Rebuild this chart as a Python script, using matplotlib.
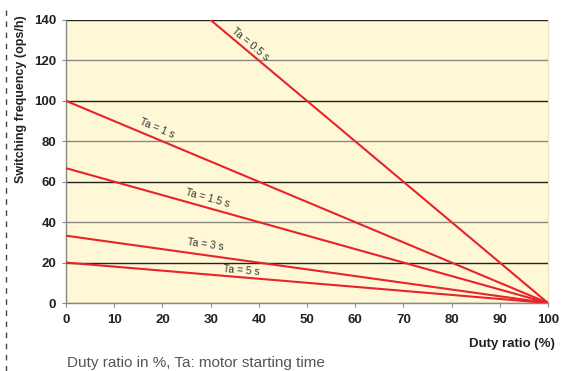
import numpy as np
import matplotlib
matplotlib.use("Agg")
import matplotlib.pyplot as plt
from matplotlib.lines import Line2D

plt.rcParams['font.family'] = ['Liberation Sans', 'DejaVu Sans']

# Data
duty = [0, 100]
series_labels = ["Ta = 0.5 s", "Ta = 1 s", "Ta = 1.5 s", "Ta = 3 s", "Ta = 5 s"]
start_freq = [200, 100, 66.7, 33.3, 20]
label_x = [38.2, 18.9, 29.3, 29.0, 36.5]
label_y = [128.0, 86.6, 52.0, 28.7, 16.3]
x_ticks = [0, 10, 20, 30, 40, 50, 60, 70, 80, 90, 100]
y_ticks = [0, 20, 40, 60, 80, 100, 120, 140]

W, H = 567, 371
fig = plt.figure(figsize=(W/100, H/100), dpi=100)
ax = fig.add_axes([66/W, 1-303/H, (548-66)/W, (303-20)/H])
ax.set_facecolor('#FFF8D6')
ax.set_xlim(0, 100)
ax.set_ylim(0, 140)

for f0 in start_freq:
    ax.plot(duty, [f0, 0], color='#E8232B', lw=1.5, zorder=3, clip_on=True, solid_capstyle='butt')

for lab, lx, ly, f0 in zip(series_labels, label_x, label_y, start_freq):
    ang = np.degrees(np.arctan2(-f0, 100))
    ax.text(lx, ly, lab, rotation=ang, transform_rotates_text=True,
            rotation_mode='anchor', ha='center', va='center',
            fontsize=7.5, color='#333333', zorder=4)

ax.set_xticks(x_ticks)
ax.set_yticks(y_ticks)
ax.tick_params(axis='both', direction='out', length=3, width=0.8, color='#888888',
               labelsize=9.5, labelcolor='#222222')
ax.tick_params(axis='x', pad=5)
ax.tick_params(axis='y', pad=4)
for t in ax.get_xticklabels() + ax.get_yticklabels():
    t.set_fontweight('bold')

ax.yaxis.grid(True, zorder=1)
for val, gl in zip(y_ticks, ax.yaxis.get_gridlines()):
    if val in (20, 60, 100, 140):
        gl.set_color('#222222')
    else:
        gl.set_color('#8a8a80')
    gl.set_linewidth(1.0)
ax.set_axisbelow(True)

ax.spines['top'].set_visible(False)
ax.spines['right'].set_color('#e8e2c0')
ax.spines['right'].set_linewidth(0.8)
ax.spines['left'].set_color('#888888')
ax.spines['bottom'].set_color('#888888')
ax.spines['left'].set_linewidth(1.0)
ax.spines['bottom'].set_linewidth(1.0)

ax.set_ylabel('Switching frequency (ops/h)', fontsize=9, fontweight='bold', color='#222222')
ax.yaxis.set_label_coords(-39/(548-66), (303-99)/(303-20))

fig.text(555/W, 1-344/H, 'Duty ratio (%)', ha='right', va='center', fontsize=9.5,
         fontweight='bold', color='#222222')
fig.text(67/W, 1-363/H, 'Duty ratio in %, Ta: motor starting time', ha='left', va='center',
         fontsize=11, color='#555555')

fig.add_artist(Line2D([6/W, 6/W], [0, 1-10/H], transform=fig.transFigure,
                      color='#444444', lw=1.0, linestyle=(0, (4, 4))))

fig.savefig('out.png', dpi=100)
